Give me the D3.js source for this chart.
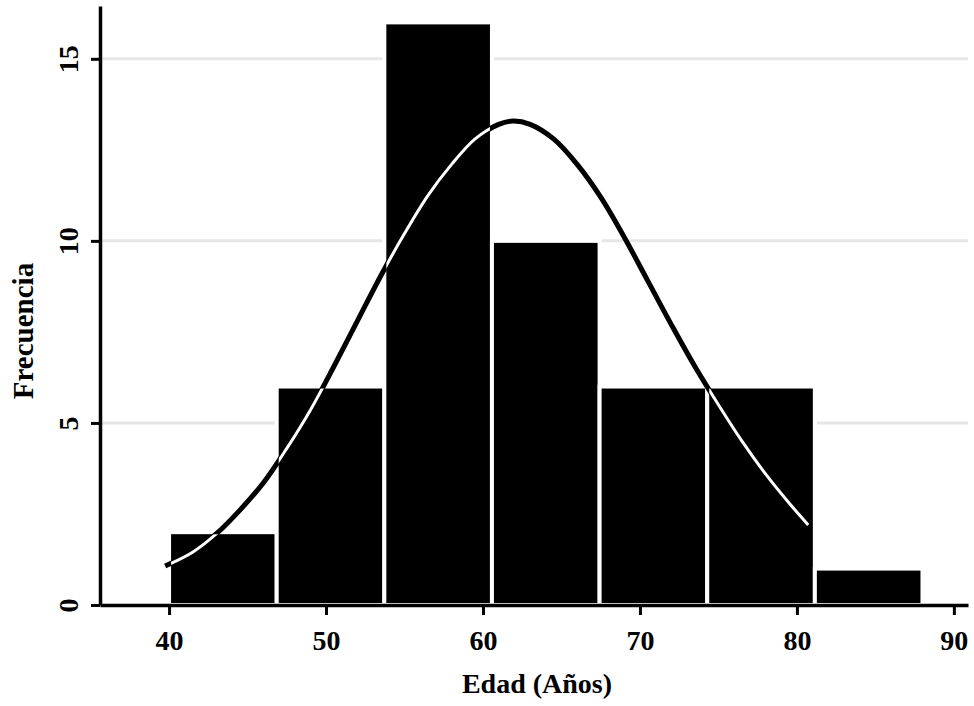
<!DOCTYPE html>
<html>
<head>
<meta charset="utf-8">
<script src="https://cdn.jsdelivr.net/npm/d3@7"></script>
<style>
  body { margin: 0; background: #fff; }
  svg text { font-family: "Liberation Serif", "Times New Roman", serif; font-weight: bold; fill: #000; }
</style>
</head>
<body>
<div id="chart"></div>
<script>
// histogram bins (edad) and frequencies
var binEdges = [40, 46.857, 53.714, 60.571, 67.429, 74.286, 81.143, 88];
var counts = [2, 6, 16, 10, 6, 6, 1];

// fitted curve
var curveX = [39.75, 41.5, 43, 44.5, 46, 47.5, 49, 50.5, 52, 53.5, 55, 56.5, 58, 59.5, 61, 61.93,
              63, 64.5, 66, 67.5, 69, 70.5, 72, 73.5, 75, 76.5, 78, 79.5, 80.72];
var curveY = [1.07, 1.45, 1.95, 2.6, 3.35, 4.3, 5.35, 6.55, 7.8, 9.05, 10.2, 11.25, 12.1, 12.8, 13.2, 13.29,
              13.2, 12.8, 12.1, 11.2, 10.1, 8.9, 7.7, 6.55, 5.5, 4.5, 3.6, 2.8, 2.2];

var xTicks = [40, 50, 60, 70, 80, 90];
var yTicks = [0, 5, 10, 15];
var gridTicks = [5, 10, 15];

var svgWidth = 974;
var svgHeight = 706;

var svg = d3.select("#chart")
    .append("svg")
    .attr("width", svgWidth)
    .attr("height", svgHeight);

var xScale = d3.scaleLinear()
    .domain([35.6, 90.9])
    .range([100, 968]);

var yScale = d3.scaleLinear()
    .domain([0, 16.45])
    .range([605, 6]);

// gridlines
svg.append("g")
    .selectAll("line")
    .data(gridTicks)
    .enter()
    .append("line")
    .attr("x1", xScale.range()[0])
    .attr("x2", xScale.range()[1])
    .attr("y1", d => yScale(d))
    .attr("y2", d => yScale(d))
    .attr("stroke", "#e6e6e6")
    .attr("stroke-width", 3);

var bins = counts.map(function(c, i) {
    return { x0: binEdges[i], x1: binEdges[i + 1], n: c };
});

// bars
svg.append("g")
    .selectAll("rect")
    .data(bins)
    .enter()
    .append("rect")
    .attr("x", d => xScale(d.x0))
    .attr("y", d => yScale(d.n))
    .attr("width", d => xScale(d.x1) - xScale(d.x0))
    .attr("height", d => yScale(0) - yScale(d.n))
    .attr("fill", "#000")
    .attr("stroke", "#fff")
    .attr("stroke-width", 4);

// clip: inside of the bars, where the curve turns white
var clip = svg.append("defs").append("clipPath").attr("id", "barclip");
clip.selectAll("rect")
    .data(bins)
    .enter()
    .append("rect")
    .attr("x", d => xScale(d.x0) + 2)
    .attr("y", d => yScale(d.n) + 2)
    .attr("width", d => xScale(d.x1) - xScale(d.x0) - 4)
    .attr("height", d => yScale(0) - yScale(d.n) - 2);

var pts = curveX.map((x, i) => [x, curveY[i]]);
var line = d3.line()
    .x(d => xScale(d[0]))
    .y(d => yScale(d[1]))
    .curve(d3.curveCatmullRom.alpha(0.5));

svg.append("path")
    .datum(pts)
    .attr("d", line)
    .attr("fill", "none")
    .attr("stroke", "#000")
    .attr("stroke-width", 5);

svg.append("path")
    .datum(pts)
    .attr("d", line)
    .attr("fill", "none")
    .attr("stroke", "#fff")
    .attr("stroke-width", 3)
    .attr("clip-path", "url(#barclip)");

// axes
var xAxis = d3.axisBottom(xScale)
    .tickValues(xTicks)
    .tickSize(10)
    .tickSizeOuter(0);

var gx = svg.append("g")
    .attr("transform", `translate(0, ${yScale(0)})`)
    .call(xAxis);

var yAxis = d3.axisLeft(yScale)
    .tickValues(yTicks)
    .tickSize(9)
    .tickSizeOuter(0);

var gy = svg.append("g")
    .attr("transform", `translate(${xScale.range()[0]}, 0)`)
    .call(yAxis);

[gx, gy].forEach(function(g) {
    g.select(".domain").attr("stroke", "#000").attr("stroke-width", 3.5);
    g.selectAll(".tick line").attr("stroke", "#000").attr("stroke-width", 3);
    g.selectAll("text").style("font-size", "28px").attr("fill", "#000");
});

gx.selectAll(".tick text")
    .attr("y", 45)
    .attr("dy", 0);

gy.selectAll(".tick text")
    .attr("x", 0)
    .attr("dy", 0)
    .attr("text-anchor", "middle")
    .attr("transform", "translate(-22, 0) rotate(-90)");

// axis titles
svg.append("text")
    .attr("x", 537)
    .attr("y", 693)
    .attr("text-anchor", "middle")
    .style("font-size", "28px")
    .text("Edad (Años)");

svg.append("text")
    .attr("transform", "translate(33, 331) rotate(-90)")
    .attr("text-anchor", "middle")
    .style("font-size", "29px")
    .text("Frecuencia");
</script>
</body>
</html>
